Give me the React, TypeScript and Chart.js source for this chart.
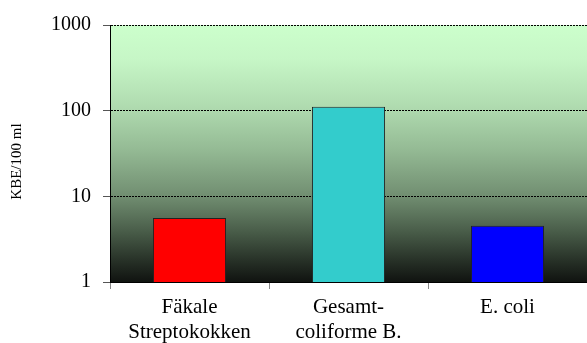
import React, { useEffect, useRef } from "react";
import { Chart, registerables } from "chart.js";
Chart.register(...registerables);

const categories: string[][] = [["Fäkale", "Streptokokken"], ["Gesamt-", "coliforme B."], ["E. coli"]];
const values: number[] = [5.6, 111, 4.55];
const barColors: string[] = ["#FF0000", "#33CCCC", "#0000FF"];
const yTicks: number[] = [1, 10, 100, 1000];
const yTitle = "KBE/100 ml";

const FONT = "'Liberation Serif', 'Times New Roman', serif";

const bgPlugin = {
  id: "gradientBg",
  beforeDraw(chart: any) {
    const { ctx, chartArea } = chart;
    if (!chartArea) return;
    const { left, right, top, bottom } = chartArea;
    const g = ctx.createLinearGradient(0, top, 0, bottom);
    g.addColorStop(0, "rgb(204,255,204)");
    g.addColorStop(0.136, "rgb(198,246,198)");
    g.addColorStop(0.33, "rgb(174,217,174)");
    g.addColorStop(0.486, "rgb(148,186,148)");
    g.addColorStop(0.665, "rgb(113,142,113)");
    g.addColorStop(0.8, "rgb(74,94,74)");
    g.addColorStop(0.914, "rgb(40,50,40)");
    g.addColorStop(1, "rgb(16,19,16)");
    ctx.save();
    ctx.fillStyle = g;
    ctx.fillRect(left, top, right - left, bottom - top);
    ctx.restore();
  },
  afterDraw(chart: any) {
    const { ctx, chartArea } = chart;
    ctx.save();
    ctx.translate(17.5, (chartArea.top + chartArea.bottom) / 2 + 8);
    ctx.rotate(-Math.PI / 2);
    ctx.font = `15px ${FONT}`;
    ctx.fillStyle = "#000000";
    ctx.textAlign = "center";
    ctx.textBaseline = "middle";
    ctx.fillText(yTitle, 0, 0);
    ctx.restore();
  },
};

export default function App() {
  const ref = useRef<HTMLCanvasElement>(null);
  useEffect(() => {
    const chart = new Chart(ref.current as HTMLCanvasElement, {
      type: "bar",
      data: {
        labels: categories,
        datasets: [
          {
            data: values,
            backgroundColor: barColors,
            borderColor: "#222222",
            borderWidth: 1,
            barPercentage: 0.46,
            categoryPercentage: 1,
          },
        ],
      },
      options: {
        responsive: false,
        animation: false,
        layout: { padding: { top: 25, right: 0, left: 0, bottom: 0 } },
        plugins: { legend: { display: false }, tooltip: { enabled: false } },
        scales: {
          x: {
            grid: {
              display: true,
              drawOnChartArea: false,
              drawTicks: true,
              tickLength: 7,
              color: "#888888",
              offset: true,
            },
            border: { display: true, color: "#000000", width: 1 },
            ticks: {
              color: "#000000",
              font: { family: FONT, size: 21, lineHeight: 1.2 },
              padding: 6,
              maxRotation: 0,
              autoSkip: false,
            },
            afterFit: (s: any) => {
              s.height = 61;
            },
          },
          y: {
            type: "logarithmic",
            min: 1,
            max: 1000,
            afterBuildTicks: (s: any) => {
              s.ticks = yTicks.map((v) => ({ value: v }));
            },
            ticks: {
              color: "#000000",
              font: { family: FONT, size: 20 },
              padding: 12,
              callback: (v: any) => String(v),
            },
            grid: {
              color: "#000000",
              lineWidth: 1,
              tickLength: 7,
              tickColor: "#555555",
            },
            border: { display: true, color: "#000000", width: 1, dash: [2, 1] },
            title: { display: false },
            afterFit: (s: any) => {
              s.width = 110;
            },
          },
        },
      },
      plugins: [bgPlugin],
    } as any);
    return () => chart.destroy();
  }, []);
  return (
    <div style={{ position: "fixed", left: 0, top: 0, width: 587, height: 343, background: "#fff" }}>
      <canvas ref={ref} width={587} height={343} />
    </div>
  );
}
